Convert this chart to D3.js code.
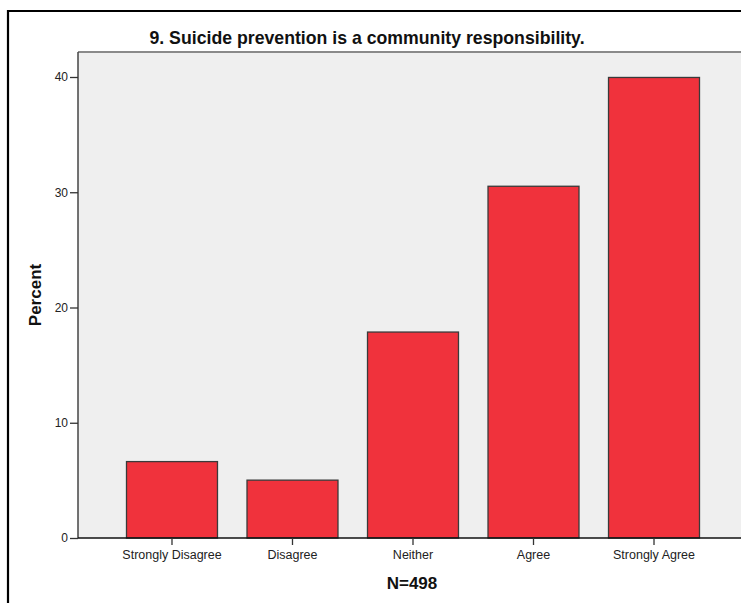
<!DOCTYPE html>
<html><head><meta charset="utf-8">
<script src="https://cdn.jsdelivr.net/npm/d3@7"></script>
<style>html,body{margin:0;background:#fff;overflow:hidden;}svg{display:block;font-family:Arial,"Liberation Sans",sans-serif;}</style>
</head><body>
<script>
const categories = ["Strongly Disagree","Disagree","Neither","Agree","Strongly Agree"];
const percents = [6.63, 5.02, 17.87, 30.52, 39.96];
const yTicks = [0, 10, 20, 30, 40];
const title = "9. Suicide prevention is a community responsibility.";
const xLabel = "N=498";
const yLabel = "Percent";

const W = 741, H = 603;
const svg = d3.select("body").append("svg").attr("width", W).attr("height", H);

// outer frame (left and top edges visible; the rest runs off the picture)
svg.append("path").attr("d", `M8,${H + 5}V11H${W + 5}`)
  .attr("fill", "none").attr("stroke", "#000").attr("stroke-width", 2.2);

const plot = {l: 78, t: 52, r: 748, b: 538};
const x = d3.scaleBand().domain(categories).range([plot.l, plot.r]).paddingInner(0.245).paddingOuter(0.4025);
const y = d3.scaleLinear().domain([0, 40]).range([plot.b, 77]);

// plot background
svg.append("rect").attr("x", plot.l).attr("y", plot.t).attr("width", W - plot.l).attr("height", plot.b - plot.t)
  .attr("fill", "#efefef");
svg.append("line").attr("x1", plot.l).attr("x2", W).attr("y1", plot.t).attr("y2", plot.t)
  .attr("stroke", "#8a8a8a").attr("stroke-width", 2);

// bars
svg.selectAll("rect.bar").data(percents).join("rect").attr("class", "bar")
  .attr("x", (d, i) => x(categories[i]))
  .attr("y", d => y(d))
  .attr("width", x.bandwidth())
  .attr("height", d => y(0) - y(d))
  .attr("fill", "#f0323c")
  .attr("stroke", "#3a3a3a").attr("stroke-width", 1.3);

// y axis
const yAxis = d3.axisLeft(y).tickValues(yTicks).tickSize(8).tickPadding(2).tickFormat(d3.format("d"));
const gy = svg.append("g").attr("transform", `translate(${plot.l},0)`).call(yAxis);
gy.select(".domain").attr("d", `M0,${plot.t}V${plot.b}`).attr("stroke", "#444").attr("stroke-width", 1.5);
gy.selectAll(".tick line").attr("stroke", "#333").attr("stroke-width", 1.3);
gy.selectAll(".tick text").attr("font-size", 12).attr("fill", "#222").attr("font-family", "Arial, 'Liberation Sans', sans-serif");

// x axis
const xAxis = d3.axisBottom(x).tickSize(7).tickPadding(5);
const gx = svg.append("g").attr("transform", `translate(0,${plot.b})`).call(xAxis);
gx.select(".domain").attr("d", `M${plot.l},0H${W}`).attr("stroke", "#111").attr("stroke-width", 1.5);
gx.selectAll(".tick line").attr("stroke", "#333").attr("stroke-width", 1.3);
gx.selectAll(".tick text").attr("font-size", 12.5).attr("fill", "#222").attr("font-family", "Arial, 'Liberation Sans', sans-serif");

// title
svg.append("text").attr("x", 367).attr("y", 44).attr("text-anchor", "middle")
  .attr("font-size", 17.7).attr("font-weight", "bold").attr("fill", "#111").text(title);

// axis titles
svg.append("text").attr("x", 412).attr("y", 589).attr("text-anchor", "middle")
  .attr("font-size", 17).attr("font-weight", "bold").attr("fill", "#111").text(xLabel);
svg.append("text").attr("transform", `translate(41,${(plot.t + plot.b) / 2}) rotate(-90)`).attr("text-anchor", "middle")
  .attr("font-size", 17).attr("font-weight", "bold").attr("fill", "#111").text(yLabel);
</script>
</body></html>
